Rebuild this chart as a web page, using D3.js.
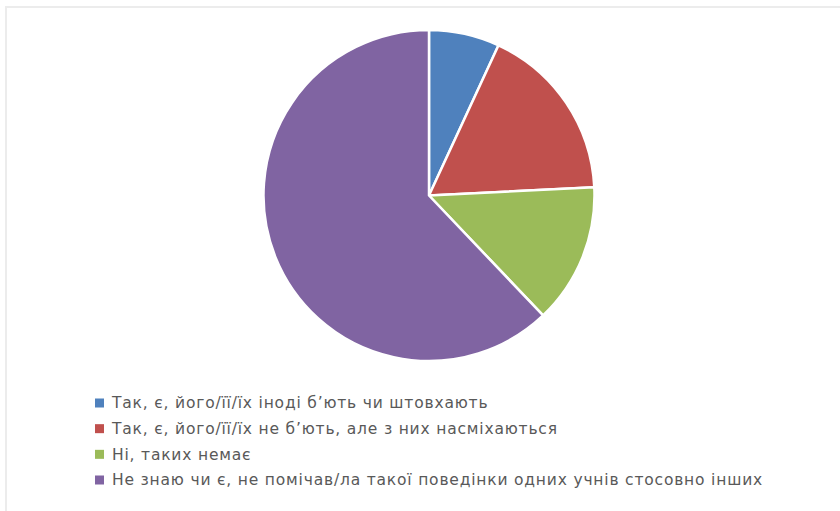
<!DOCTYPE html>
<html><head><meta charset="utf-8">
<script src="https://cdn.jsdelivr.net/npm/d3@7"></script>
<style>body{margin:0;background:#fff}</style>
</head><body>
<svg id="c" width="840" height="511"></svg>
<script>
const categories = [
  "Так, є, його/її/їх іноді б’ють чи штовхають",
  "Так, є, його/її/їх не б’ють, але з них насміхаються",
  "Ні, таких немає",
  "Не знаю чи є, не помічав/ла такої поведінки одних учнів стосовно інших"
];
const values = [6.9, 17.3, 13.7, 62.1];
const colors = ["#4F81BD", "#C0504D", "#9BBB59", "#8064A2"];

const svg = d3.select("#c");
svg.append("rect").attr("x",6).attr("y",7).attr("width",840).attr("height",520)
  .attr("fill","#fff").attr("stroke","#ececec").attr("stroke-width",2);

const cx = 429, cy = 195.5, r = 165.5;
const pie = d3.pie().sort(null).value(d => d)(values);
const arc = d3.arc().innerRadius(0).outerRadius(r);
svg.append("g").attr("transform",`translate(${cx},${cy})`)
  .selectAll("path").data(pie).join("path")
  .attr("d", arc).attr("fill",(d,i)=>colors[i])
  .attr("stroke","#fff").attr("stroke-width",2.5).attr("stroke-linejoin","round");

const lg = svg.append("g");
const rowY = d3.scalePoint().domain(d3.range(categories.length)).range([403, 480]);
const texts = [];
categories.forEach((c,i)=>{
  const y = rowY(i);
  lg.append("rect").attr("x",95).attr("y",y-4.5).attr("width",9).attr("height",9).attr("fill",colors[i]);
  texts.push(lg.append("text").attr("x",112).attr("y",y).attr("dy","0.35em")
    .attr("font-family","'DejaVu Sans', sans-serif").attr("font-size",15.5)
    .attr("fill","#595959").text(c));
});
// fit longest row to the reference's legend width
const longest = texts[3];
const w = longest.node().getComputedTextLength();
const target = 651;
const ls = (target - w) / categories[3].length;
texts.forEach(t => t.attr("letter-spacing", ls));
</script>
</body></html>
